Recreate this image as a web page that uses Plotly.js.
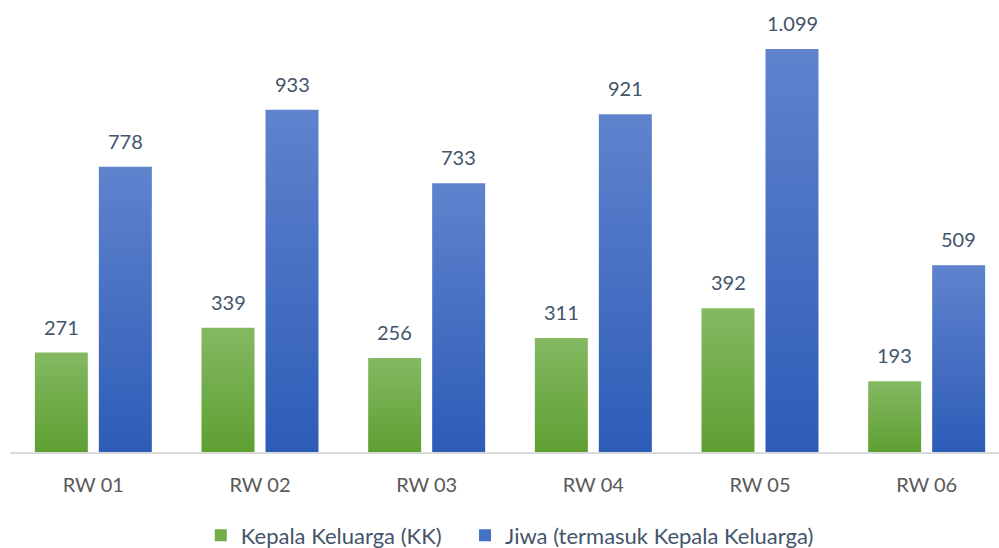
<!DOCTYPE html>
<html>
<head>
<meta charset="utf-8">
<script src="https://cdn.plot.ly/plotly-3.0.1.min.js"></script>
<style>
html,body{margin:0;padding:0;background:#fff;}
#chart{width:999px;height:548px;}
</style>
</head>
<body>
<div id="chart"></div>
<script>
var categories = ['RW 01','RW 02','RW 03','RW 04','RW 05','RW 06'];
var kkValues = [271, 339, 256, 311, 392, 193];
var jiwaValues = [778, 933, 733, 921, 1099, 509];
var seriesNames = ['Kepala Keluarga (KK)', 'Jiwa (termasuk Kepala Keluarga)'];

var FONT = 'Lato, "Open Sans", sans-serif';
var LABEL_COLOR = '#44546A';

function fmt(v){ return v.toString().replace(/\B(?=(\d{3})+(?!\d))/g, '.'); }

var traces = [
  {type:'bar', name:seriesNames[0], x:categories, y:kkValues, marker:{color:'#70AD47'}, hoverinfo:'none', legend:'legend'},
  {type:'bar', name:seriesNames[1], x:categories, y:jiwaValues, marker:{color:'#4472C4'}, hoverinfo:'none', legend:'legend2'}
];

var annotations = [];
[kkValues, jiwaValues].forEach(function(vals, si){
  vals.forEach(function(v, i){
    annotations.push({
      x: categories[i], y: v, xref:'x', yref:'y',
      text: fmt(v), showarrow:false,
      xshift: si === 0 ? -32 : 32, yshift: 26,
      yanchor:'middle',
      font:{family:FONT, size:20, color:LABEL_COLOR}
    });
  });
});

var legendBase = {orientation:'h', xref:'container', yref:'container', xanchor:'left', y:0.023, yanchor:'middle',
                  font:{family:FONT, size:22, color:LABEL_COLOR}, itemclick:false, bgcolor:'rgba(0,0,0,0)'};

var layout = {
  width:999, height:548,
  margin:{l:10, r:0, t:10, b:96},
  paper_bgcolor:'#fff', plot_bgcolor:'#fff',
  barmode:'group', bargap:0.232, bargroupgap:0.172,
  showlegend:true,
  legend:Object.assign({}, legendBase, {x:0.201}),
  legend2:Object.assign({}, legendBase, {x:0.4655}),
  xaxis:{type:'category', range:[-0.5, 5.434], showline:true, linecolor:'#D9D9D9', linewidth:1.5,
         showgrid:false, zeroline:false, ticks:'outside', ticklen:14, tickcolor:'rgba(0,0,0,0)',
         tickfont:{family:FONT, size:20, color:'#595959'}, fixedrange:true},
  yaxis:{range:[0, 1205], visible:false, showgrid:false, zeroline:false, fixedrange:true},
  annotations: annotations
};

Plotly.newPlot('chart', traces, layout, {displayModeBar:false, staticPlot:true}).then(function(gd){
  var svg = gd.querySelector('svg.main-svg');
  var ns = 'http://www.w3.org/2000/svg';
  var defs = svg.querySelector('defs') || svg.insertBefore(document.createElementNS(ns,'defs'), svg.firstChild);
  function grad(id, top, bottom){
    var g = document.createElementNS(ns,'linearGradient');
    g.setAttribute('id', id); g.setAttribute('x1','0'); g.setAttribute('y1','0'); g.setAttribute('x2','0'); g.setAttribute('y2','1');
    [[0,top],[1,bottom]].forEach(function(s){
      var st = document.createElementNS(ns,'stop');
      st.setAttribute('offset', s[0]); st.setAttribute('stop-color', s[1]);
      g.appendChild(st);
    });
    defs.appendChild(g);
  }
  grad('gGreen', '#84B962', '#5E9F32');
  grad('gBlue', '#5F83CD', '#2D5CB7');
  var ids = ['gGreen','gBlue'];
  gd.querySelectorAll('.barlayer .trace').forEach(function(t, i){
    t.querySelectorAll('.point path').forEach(function(p){ p.style.fill = 'url(#' + ids[i] + ')'; });
  });
});
</script>
</body>
</html>
